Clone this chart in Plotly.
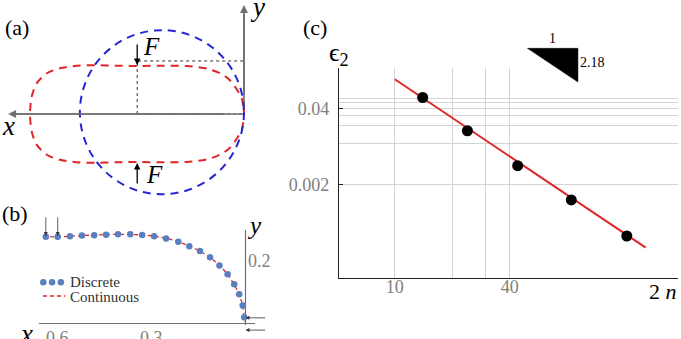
import math
import plotly.graph_objects as go

W, H = 681, 339
SERIF = "serif"
RED = "#e0262a"
BLUE = "#2626d8"
GRAY = "#707070"

# ---------------- Panel (a): shapes ----------------
a_top_x = [0, 0.004, 0.013, 0.032, 0.079, 0.135, 0.21, 0.32, 0.45, 0.6, 0.72,
           0.83, 0.94, 1.034, 1.108, 1.165, 1.193, 1.202]
a_top_y = [0, 0.045, 0.09, 0.125, 0.19, 0.229, 0.255, 0.269, 0.271, 0.270,
           0.271, 0.274, 0.271, 0.257, 0.229, 0.172, 0.097, 0]
circle_cx, circle_cy, circle_r = 0.461, 0.01, 0.461
force_x = 0.6
force_level = 0.298
force_tip = 0.275
force_tail = 0.399
axis_a_x_tip = 1.325
axis_a_y_tip = 0.612

# ---------------- Panel (b): discrete vs continuous ----------------
b_disc_x = [0.636, 0.598, 0.559, 0.521, 0.482, 0.444, 0.406, 0.367, 0.329,
            0.291, 0.253, 0.214, 0.179, 0.145, 0.113, 0.083, 0.057, 0.036,
            0.020, 0.009, 0.004]
b_disc_y = [0.276, 0.276, 0.278, 0.280, 0.281, 0.283, 0.284, 0.284, 0.282,
            0.278, 0.271, 0.260, 0.246, 0.231, 0.211, 0.185, 0.157, 0.125,
            0.093, 0.057, 0.020]
b_cont_x = [0.645, 0.6, 0.5, 0.4, 0.33, 0.29, 0.25, 0.2, 0.15, 0.1, 0.06,
            0.03, 0.012, 0.004, 0.0]
b_cont_y = [0.276, 0.276, 0.281, 0.284, 0.282, 0.278, 0.271, 0.255, 0.233,
            0.200, 0.160, 0.113, 0.068, 0.025, 0.005]
b_xticks = [0.6, 0.3]
b_yticks = [0.2]
b_top_arrows_x = [0.636, 0.598]
b_side_arrows_y = [0.018, -0.021]

# ---------------- Panel (c): convergence ----------------
c_n = [14, 24, 44, 84, 164]
c_eps = [0.0612, 0.0165, 0.00416, 0.00108, 0.00026]
fit_n = [10, 206]
fit_eps = [0.1257, 0.000164]
slope = 2.18
tri_n = [49.5, 91]
tri_top = 0.4256
c_xticks = [10, 40]
c_xgrid = [20, 30]
c_yticks = [0.002, 0.04]
c_ygrid = [0.01, 0.02, 0.03, 0.05, 0.06]


def P(px, py):
    return px / W, 1 - py / H


fig = go.Figure()

sa = 178.0
ax_dom_x = [0, 250 / W]
ax_dom_y = [1 - 200 / H, 1]
ax_rng_x = [(244 - 0) / sa, (244 - 250) / sa]
ax_rng_y = [(114 - 200) / sa, (114 - 0) / sa]
sb = 314.0
bx_dom_x = [0, 280 / W]
bx_dom_y = [0, 1 - 200 / H]
bx_rng_x = [(245.5 - 0) / sb, (245.5 - 280) / sb]
bx_rng_y = [(323.5 - 339) / sb, (323.5 - 200) / sb]
c_dom_x = [339 / W, 678 / W]
c_dom_y = [(H - 277.7) / H, (H - 68) / H]
XR = [0.708, 2.483]
YR = [-4.299, -0.708]
ppd = (277.7 - 68) / (YR[1] - YR[0])
YR4 = [YR[0], YR[1] + 68 / ppd]

hidden = dict(visible=False, showgrid=False, zeroline=False, fixedrange=True)

red_x = a_top_x + a_top_x[::-1][1:]
red_y = a_top_y + [-v for v in a_top_y[::-1][1:]]
fig.add_trace(go.Scatter(x=[force_x, force_x, 0], y=[0, force_level, force_level],
                         mode="lines", line=dict(color="#333", width=1, dash="dot"),
                         xaxis="x", yaxis="y", hoverinfo="skip"))
fig.add_trace(go.Scatter(x=[force_x, 0], y=[0, 0], mode="lines",
                         line=dict(color="#333", width=1, dash="dot"),
                         xaxis="x", yaxis="y", hoverinfo="skip"))
fig.add_trace(go.Scatter(x=[0, axis_a_x_tip * 0.99], y=[0, 0], mode="lines",
                         line=dict(color=GRAY, width=1.6), xaxis="x", yaxis="y"))
fig.add_trace(go.Scatter(x=[0, 0], y=[0, axis_a_y_tip * 0.98], mode="lines",
                         line=dict(color=GRAY, width=1.6), xaxis="x", yaxis="y"))
fig.add_trace(go.Scatter(x=red_x, y=red_y, mode="lines",
                         line=dict(color=RED, width=2, dash="8px,6px", shape="spline", smoothing=0.8),
                         xaxis="x", yaxis="y"))

fig.add_trace(go.Scatter(x=[0.658, -0.030], y=[0, 0], mode="lines",
                         line=dict(color=GRAY, width=1.2), xaxis="x2", yaxis="y2"))
fig.add_trace(go.Scatter(x=[0, 0], y=[-0.005, 0.298], mode="lines",
                         line=dict(color=GRAY, width=1.2), xaxis="x2", yaxis="y2"))
fig.add_trace(go.Scatter(x=b_cont_x, y=b_cont_y, mode="lines",
                         line=dict(color=RED, width=1.3, dash="4px,3px", shape="spline"),
                         xaxis="x2", yaxis="y2"))
fig.add_trace(go.Scatter(x=b_disc_x, y=b_disc_y, mode="markers",
                         marker=dict(color="#5a7fc0", size=6.5),
                         xaxis="x2", yaxis="y2"))
fig.add_trace(go.Scatter(x=[0.644, 0.616, 0.588], y=[0.131] * 3, mode="markers",
                         marker=dict(color="#5a7fc0", size=6.5), xaxis="x2", yaxis="y2"))
fig.add_trace(go.Scatter(x=[0.645, 0.574], y=[0.0876] * 2, mode="lines",
                         line=dict(color=RED, width=1.3, dash="4px,3px"),
                         xaxis="x2", yaxis="y2"))

fig.add_trace(go.Scatter(x=fit_n, y=fit_eps, mode="lines",
                         line=dict(color=RED, width=2), xaxis="x3", yaxis="y3"))
fig.add_trace(go.Scatter(x=c_n, y=c_eps, mode="markers",
                         marker=dict(color="black", size=11), xaxis="x3", yaxis="y3"))
tri_bot = tri_top * (tri_n[1] / tri_n[0]) ** (-slope)
fig.add_trace(go.Scatter(x=[tri_n[0], tri_n[1], tri_n[1], tri_n[0]],
                         y=[tri_top, tri_top, tri_bot, tri_top], mode="lines",
                         fill="toself", fillcolor="black", line=dict(color="black", width=0.5),
                         xaxis="x4", yaxis="y4"))

shapes = [dict(type="circle", xref="x", yref="y",
               x0=circle_cx - circle_r, x1=circle_cx + circle_r,
               y0=circle_cy - circle_r, y1=circle_cy + circle_r,
               line=dict(color=BLUE, width=2, dash="8px,6px"))]

ann = []


def text(px, py, s, size, color="black", xanchor="center", yanchor="middle"):
    x, y = P(px, py)
    ann.append(dict(x=x, y=y, xref="paper", yref="paper", text=s, showarrow=False,
                    font=dict(family=SERIF, size=size, color=color),
                    xanchor=xanchor, yanchor=yanchor))


def arrow(xref, yref, x, y, axv, ayv, color, width):
    ann.append(dict(x=x, y=y, ax=axv, ay=ayv, xref=xref, yref=yref, axref=xref, ayref=yref,
                    text="", showarrow=True, arrowhead=2, arrowsize=1, arrowwidth=width,
                    arrowcolor=color, standoff=0, startstandoff=0))


text(17, 27, "(a)", 22)
text(8, 126, "<i>x</i>", 27)
text(257, 7, "<i>y</i>", 27)
text(151, 46, "<i>F</i>", 25)
text(154, 175, "<i>F</i>", 25)
arrow("x", "y", axis_a_x_tip, 0, 0.1, 0, GRAY, 1.6)
arrow("x", "y", 0, axis_a_y_tip, 0, 0.1, GRAY, 1.6)
arrow("x", "y", force_x, force_tip, force_x, force_tail, "black", 1.3)
arrow("x", "y", force_x, -force_tip, force_x, -force_tail, "black", 1.3)

text(15, 213, "(b)", 22)
text(26, 334, "<i>x</i>", 27)
text(254, 225, "<i>y</i>", 25)
text(68.3, 282.3, "Discrete", 15, "#333", xanchor="left")
text(68.3, 296.5, "Continuous", 15, "#333", xanchor="left")
for v in b_xticks:
    ann.append(dict(x=v, y=0, xref="x2", yref="y2", text=f"{v:g}", showarrow=False,
                    yanchor="top", yshift=-2,
                    font=dict(family=SERIF, size=18, color="#808080")))
for v in b_yticks:
    ann.append(dict(x=0, y=v, xref="x2", yref="y2", text=f"{v:g}", showarrow=False,
                    xanchor="left", xshift=0,
                    font=dict(family=SERIF, size=18, color="#808080")))
for xv in b_top_arrows_x:
    arrow("x2", "y2", xv, 0.279, xv, 0.343, "#333", 0.8)
for yv in b_side_arrows_y:
    arrow("x2", "y2", 0.0, yv, -0.0675, yv, "#333", 0.8)

text(315, 27, "(c)", 22)
text(339, 54, "ϵ<sub>2</sub>", 26)
text(663, 291, "2 <i>n</i>", 22)
ann.append(dict(x=math.log10(math.sqrt(tri_n[0] * tri_n[1])), y=math.log10(tri_top),
                xref="x4", yref="y4", text="1", showarrow=False, yanchor="bottom",
                font=dict(family=SERIF, size=14, color="black")))
ann.append(dict(x=math.log10(tri_n[1]), y=math.log10(math.sqrt(tri_top * tri_bot)),
                xref="x4", yref="y4", text=f"{slope:g}", showarrow=False,
                xanchor="left", yshift=3,
                font=dict(family=SERIF, size=14, color="black")))

tickfont = dict(family=SERIF, size=18, color="#808080")
GRID = "#d4d4d4"

fig.update_layout(
    width=W, height=H, margin=dict(l=0, r=0, t=0, b=0),
    paper_bgcolor="white", plot_bgcolor="rgba(0,0,0,0)", showlegend=False,
    font=dict(family=SERIF),
    xaxis=dict(domain=ax_dom_x, range=ax_rng_x, anchor="y", **hidden),
    yaxis=dict(domain=ax_dom_y, range=ax_rng_y, anchor="x", **hidden),
    xaxis2=dict(domain=bx_dom_x, range=bx_rng_x, anchor="y2", **hidden),
    yaxis2=dict(domain=bx_dom_y, range=bx_rng_y, anchor="x2", **hidden),
    xaxis3=dict(domain=c_dom_x, type="log", range=XR, anchor="y3",
                tickmode="array", tickvals=c_xticks, ticktext=[str(v) for v in c_xticks],
                showgrid=True, gridcolor=GRID, gridwidth=1, ticks="",
                minor=dict(tickmode="array", tickvals=c_xgrid, showgrid=True,
                           gridcolor=GRID, gridwidth=1, ticks=""),
                showline=True, linecolor="#222", linewidth=1.4, zeroline=False,
                tickfont=tickfont, ticklabelstandoff=-8, fixedrange=True),
    yaxis3=dict(domain=c_dom_y, type="log", range=YR, anchor="x3",
                tickmode="array", tickvals=c_yticks, ticktext=["0.002", "0.04"],
                showgrid=True, gridcolor=GRID, gridwidth=1, ticks="inside", ticklen=4,
                tickcolor="#222",
                minor=dict(tickmode="array", tickvals=c_ygrid, showgrid=True,
                           gridcolor=GRID, gridwidth=1, ticks=""),
                showline=True, linecolor="#222", linewidth=1.4, zeroline=False,
                tickfont=tickfont, ticklabelstandoff=5, fixedrange=True),
    xaxis4=dict(domain=c_dom_x, type="log", range=XR, anchor="y4", **hidden),
    yaxis4=dict(domain=[c_dom_y[0], 1], type="log", range=YR4, anchor="x4", **hidden),
    shapes=shapes,
    annotations=ann,
)

fig.write_html("out.html")
